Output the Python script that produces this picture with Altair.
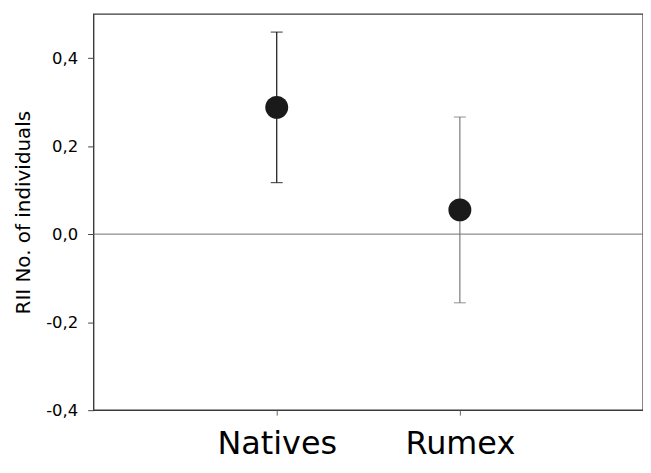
import altair as alt
import pandas as pd

groups = ["Natives", "Rumex"]
means = [0.288, 0.055]
lower = [0.117, -0.156]
upper = [0.459, 0.266]

df = pd.DataFrame({"group": groups, "mean": means, "lo": lower, "hi": upper})
zero = pd.DataFrame({"y": [0.0]})

FONT = "DejaVu Sans"

xenc = alt.X("group:N", sort=groups,
             scale=alt.Scale(type="point", padding=1),
             axis=alt.Axis(title=None, labelAngle=0, labelFontSize=32, labelColor="black",
                           labelFont=FONT, labelPadding=39, tickSize=5,
                           tickColor="#666", domain=False, labelBaseline="alphabetic"))
yscale = alt.Scale(domain=[-0.4, 0.5], nice=False, zero=False)
yaxis = alt.Axis(title="RII No. of individuals", values=[-0.4, -0.2, 0, 0.2, 0.4],
                 labelExpr="replace(replace(format(datum.value, '.1f'), '.', ','), '\u2212', '-')",
                 labelFontSize=16.5, labelColor="black", labelFont=FONT,
                 labelPadding=10, tickSize=6, tickColor="#444", domain=False, grid=False,
                 titleFontSize=20, titleFont=FONT, titleFontWeight="normal",
                 titleColor="black", titlePadding=12)

colscale = alt.Scale(domain=groups, range=["#111111", "#7a7a7a"])

zline = alt.Chart(zero).mark_rule(color="#707070", strokeWidth=1).encode(
    y=alt.Y("y:Q", scale=yscale, axis=yaxis))

bars = alt.Chart(df).mark_rule(strokeWidth=1.2).encode(
    x=xenc,
    y=alt.Y("lo:Q", scale=yscale),
    y2="hi:Q",
    color=alt.Color("group:N", scale=colscale, legend=None))

cap_lo = alt.Chart(df).mark_tick(orient="horizontal", size=12, thickness=1.2).encode(
    x=alt.X("group:N", sort=groups), y=alt.Y("lo:Q", scale=yscale),
    color=alt.Color("group:N", scale=colscale, legend=None))
cap_hi = alt.Chart(df).mark_tick(orient="horizontal", size=12, thickness=1.2).encode(
    x=alt.X("group:N", sort=groups), y=alt.Y("hi:Q", scale=yscale),
    color=alt.Color("group:N", scale=colscale, legend=None))

pts = alt.Chart(df).mark_circle(size=530, opacity=1, color="#1a1a1a").encode(
    x=alt.X("group:N", sort=groups), y=alt.Y("mean:Q", scale=yscale))

chart = alt.layer(zline, bars, cap_lo, cap_hi, pts).properties(
    width=552, height=398,
    autosize=alt.AutoSizeParams(type="none"),
    padding={"left": 86, "top": 5, "right": 0, "bottom": 52},
    background="white",
).configure_view(stroke="#3a3a3a", strokeWidth=1.4)

chart.save("out.html", embed_options={"renderer": "svg", "actions": False})
